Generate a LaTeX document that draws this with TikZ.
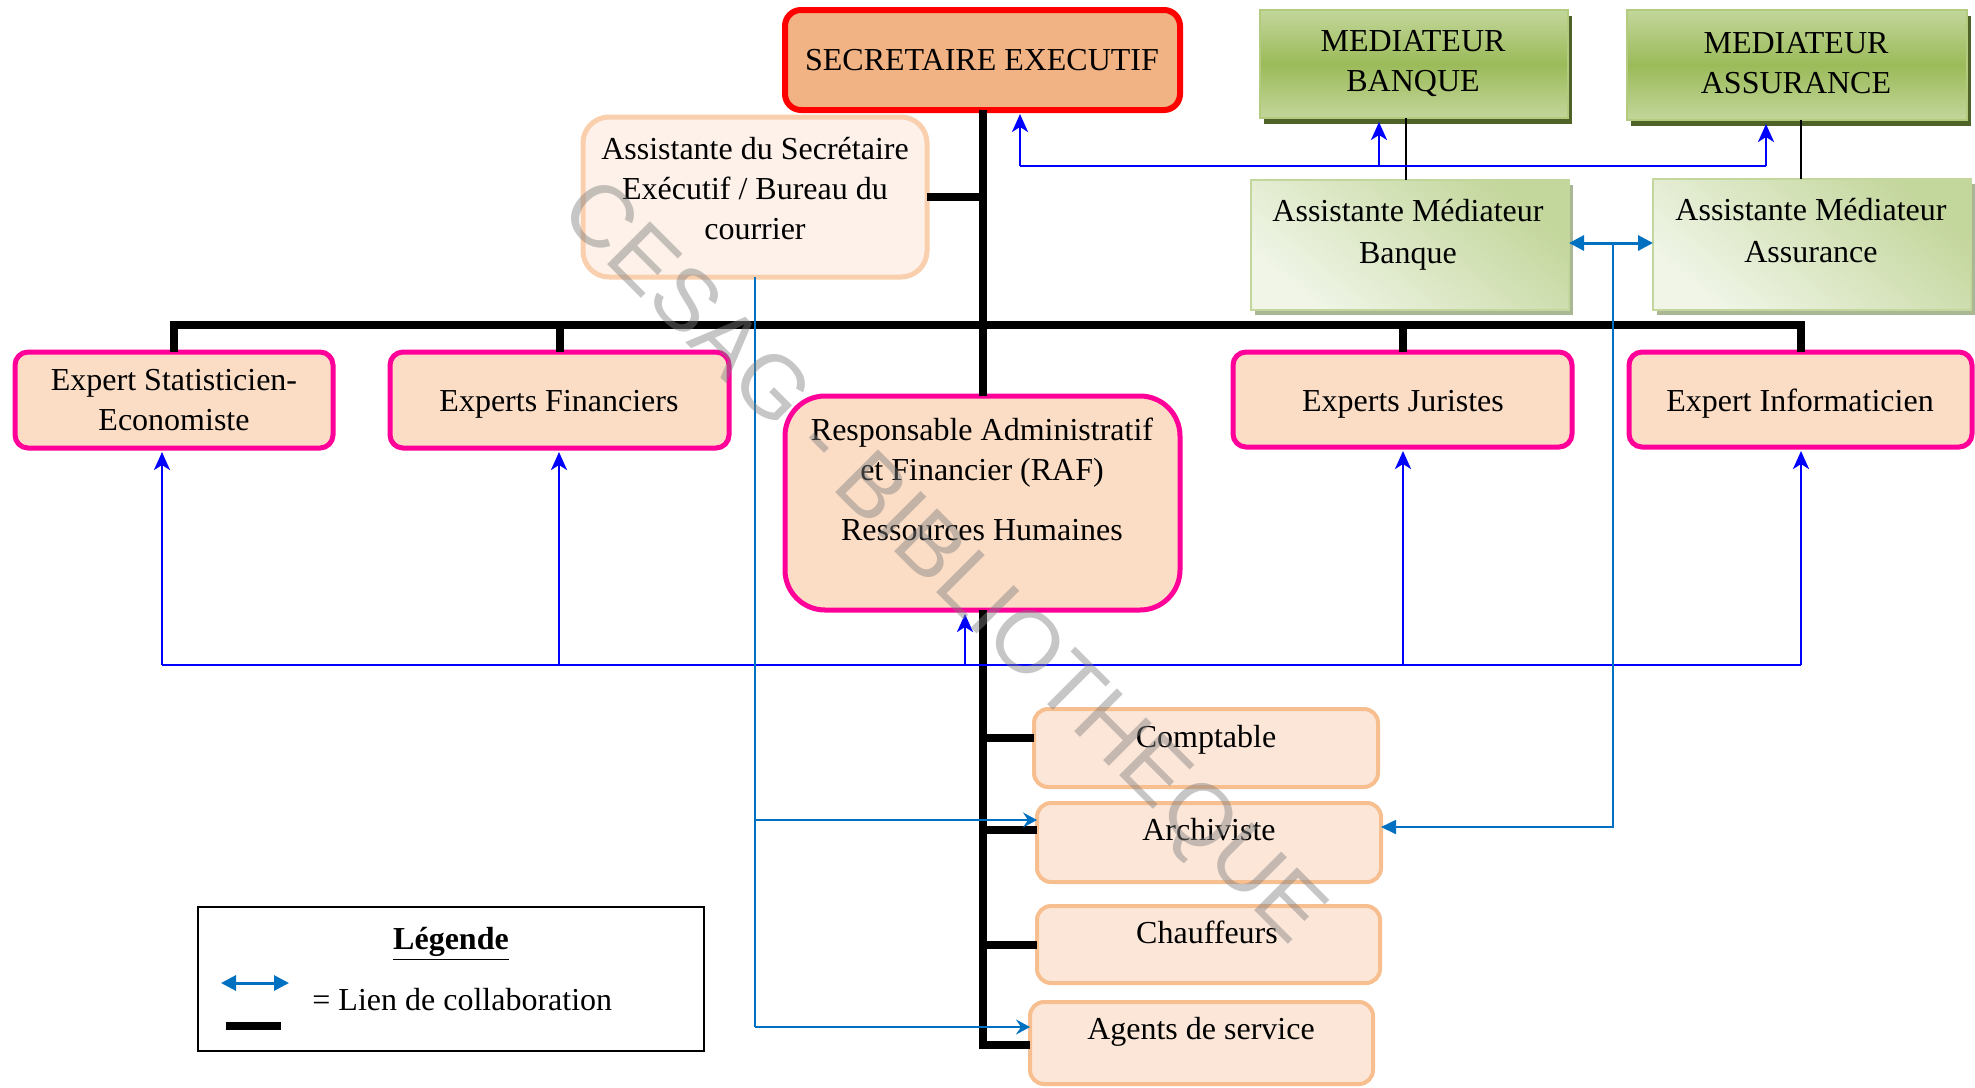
\documentclass[tikz,border=0pt]{standalone}
\usepackage{fontspec}
\setmainfont{Liberation Serif}
\newfontfamily\wmfont{Liberation Sans}
\usetikzlibrary{arrows.meta,fit,shadows}
\definecolor{secfill}{HTML}{F1B383}
\definecolor{secred}{HTML}{FF0000}
\definecolor{expfill}{HTML}{FBDDC6}
\definecolor{expmag}{HTML}{FF0099}
\definecolor{botfill}{HTML}{FCE6D8}
\definecolor{botline}{HTML}{F7BF8F}
\definecolor{asfill}{HTML}{FDF1E9}
\definecolor{asline}{HTML}{F9CFAE}
\definecolor{gLight}{HTML}{C3D69B}
\definecolor{gMid}{HTML}{9BBB59}
\definecolor{gEdge}{HTML}{B3CB7F}
\definecolor{gShadow}{HTML}{4F6228}
\definecolor{gPale}{HTML}{F0F5E7}
\definecolor{gShadowB}{HTML}{A9B795}
\definecolor{collab}{HTML}{0070C0}
\definecolor{pureblue}{HTML}{0000FF}
\begin{document}
\begin{tikzpicture}[x=0.5pt,y=-0.5pt,
  every node/.style={font=\fontsize{16}{20}\selectfont},
  boxbase/.style={inner sep=0pt, outer sep=0pt},
  secbox/.style={boxbase, draw=secred, fill=secfill, line width=3pt, rounded corners=8pt},
  expbox/.style={boxbase, draw=expmag, fill=expfill, line width=2.5pt, rounded corners=6.5pt},
  rafbox/.style={expbox, rounded corners=20pt},
  botbox/.style={boxbase, draw=botline, fill=botfill, line width=2pt, rounded corners=7pt},
  asbox/.style={boxbase, draw=asline, fill=asfill, line width=2.5pt, rounded corners=13pt},
  medbox/.style={boxbase, draw=gEdge, line width=1.2pt, top color=gLight, bottom color=gLight, middle color=gMid,
    drop shadow={shadow xshift=2pt, shadow yshift=-3pt, fill=gShadow, opacity=1}},
  amedbox/.style={boxbase, draw=gLight, line width=1pt, top color=gLight, bottom color=gPale, shading angle=-40,
    drop shadow={shadow xshift=2pt, shadow yshift=-2.5pt, fill=gShadowB, opacity=1}},
  txt/.style={align=center, inner sep=0pt},
  trunk/.style={line width=4pt, black},
  thinlink/.style={line width=0.9pt, black},
  bluel/.style={pureblue, line width=1.4pt},
  bluearr/.style={pureblue, line width=1.4pt, -{Stealth[length=9pt,width=8pt,inset=2.5pt]}, shorten >=2pt},
  collabl/.style={collab, line width=0.9pt},
  collabarr/.style={collab, line width=0.9pt, -{Stealth[length=7pt,width=7.5pt,inset=2.5pt]}},
  collabtri/.style={collab, line width=0.9pt, -{Triangle[length=7.5pt,width=7pt]}},
  collabdbl/.style={collab, line width=1.5pt, {Triangle[length=7.5pt,width=7.5pt]}-{Triangle[length=7.5pt,width=7.5pt]}},
]
\useasboundingbox (0,0) rectangle (1975,1087);

% ---------- boxes ----------
\node[secbox, fit={(785,10)(1180,110)}] (sec) {};
\node[txt] (secT) at (982,60) {SECRETAIRE EXECUTIF};
\node[medbox, fit={(1260,10)(1568,118)}] (mb) {};
\node[txt] (mbT) at (1413,64) {MEDIATEUR\\BANQUE};
\node[medbox, fit={(1627,10)(1967,120)}] (ma) {};
\node[txt] (maT) at (1796,63) {MEDIATEUR\\ASSURANCE};
\node[amedbox, fit={(1251,180)(1569,310)}] (amb) {};
\node[txt, font=\fontsize{16}{21}\selectfont] (ambT) at (1408,235) {Assistante Médiateur\\Banque};
\node[amedbox, fit={(1653,179)(1971,310)}] (ama) {};
\node[txt, font=\fontsize{16}{21}\selectfont] (amaT) at (1811,231) {Assistante Médiateur\\Assurance};
\node[asbox, fit={(583,117)(927,277)}] (asec) {};
\node[txt] (asecT) at (755,189) {Assistante du Secrétaire\\Exécutif / Bureau du\\courrier};

\node[expbox, fit={(15,352)(333,448)}] (stat) {};
\node[txt] (statT) at (174,400) {Expert Statisticien-\\Economiste};
\node[expbox, fit={(390,352)(729,448)}] (fin) {};
\node[txt] (finT) at (559,404) {Experts Financiers};
\node[expbox, fit={(1233,352)(1572,447)}] (jur) {};
\node[txt] (jurT) at (1403,404) {Experts Juristes};
\node[expbox, fit={(1629,352)(1972,447)}] (inf) {};
\node[txt] (infT) at (1800,404) {Expert Informaticien};
\node[rafbox, fit={(785,396)(1180,610)}] (raf) {};
\node[txt] (rafT) at (982,479) {Responsable Administratif\\et Financier (RAF)\\[10pt]Ressources Humaines};

\node[botbox, fit={(1034,709)(1378,787)}] (comp) {};
\node[txt] (compT) at (1206,740) {Comptable};
\node[botbox, fit={(1037,803)(1381,882)}] (archi) {};
\node[txt] (archiT) at (1209,830) {Archiviste};
\node[botbox, fit={(1037,906)(1380,983)}] (chauf) {};
\node[txt] (chaufT) at (1207,932) {Chauffeurs};
\node[botbox, fit={(1030,1002)(1373,1084)}] (agents) {};
\node[txt] (agentsT) at (1201,1032) {Agents de service};

% ---------- hierarchy (black) ----------
\coordinate (barY) at (0,325);
\coordinate (yComp) at (0,738);
\coordinate (yArchi) at (0,830);
\coordinate (yChauf) at (0,945);
\coordinate (tEnd) at (982.5,1045);
\draw[trunk] (sec.south) -- (raf.north);
\draw[trunk] (asec.east) -- (asec.east -| sec.south);
\draw[trunk] (stat.north) -- (stat.north |- barY) -- (inf.north |- barY) -- (inf.north);
\draw[trunk] (fin.north) -- (fin.north |- barY);
\draw[trunk] (jur.north) -- (jur.north |- barY);
\draw[trunk] (raf.south) -- (tEnd) -- (tEnd -| agents.west);
\draw[trunk] (tEnd |- yComp) -- (comp.west |- yComp);
\draw[trunk] (tEnd |- yArchi) -- (archi.west |- yArchi);
\draw[trunk] (tEnd |- yChauf) -- (chauf.west |- yChauf);

\coordinate (k1) at (1406,0);
\coordinate (k2) at (1801,0);
\draw[thinlink] (mb.south -| k1) -- (amb.north -| k1);
\draw[thinlink] (ma.south -| k2) -- (ama.north -| k2);

% ---------- blue links ----------
\coordinate (m0) at (1020,166);
\coordinate (m1) at (1379,166);
\coordinate (m2) at (1766,166);
\draw[bluel] (m0) -- (m2);
\draw[bluearr] (m0) -- (m0 |- sec.south);
\draw[bluearr] (m1) -- (m1 |- mb.south);
\draw[bluearr] (m2) -- (m2 |- ma.south);

\coordinate (e1) at (162,665);
\coordinate (e2) at (559,665);
\coordinate (e3) at (965,665);
\coordinate (e4) at (1403,665);
\coordinate (e5) at (1801,665);
\draw[bluel] (e1) -- (e5);
\draw[bluearr] (e1) -- (e1 |- stat.south);
\draw[bluearr] (e2) -- (e2 |- fin.south);
\draw[bluearr] (e3) -- (e3 |- raf.south);
\draw[bluearr] (e4) -- (e4 |- jur.south);
\draw[bluearr] (e5) -- (e5 |- inf.south);

% ---------- collaboration links ----------
\coordinate (cA) at (755,1027);
\coordinate (cB) at (755,820);
\draw[collabl] (asec.south) -- (cA);
\draw[collabarr] (cA) -- (cA -| agents.west);
\draw[collabarr] (cB) -- (cB -| archi.west);
\coordinate (cR1) at (1613,243);
\coordinate (cR2) at (1613,827);
\draw[collabdbl] (cR1 -| amb.east) -- (cR1 -| ama.west);
\draw[collabtri] (cR1) -- (cR2) -- (cR2 -| archi.east);

% ---------- legend ----------
\node[boxbase, draw=black, line width=0.9pt, fit={(198,907)(704,1051)}] (leg) {};
\node[txt] (legT) at (451,944) {\underline{\textbf{Légende}}};
\coordinate (lg1) at (221,983);
\coordinate (lg2) at (289,983);
\draw[collabdbl] (lg1) -- (lg2);
\coordinate (lg3) at (226,1026);
\coordinate (lg4) at (281,1026);
\draw[trunk] (lg3) -- (lg4);
\node[txt, anchor=west] (legL) at (312,1000) {= Lien de collaboration};

% ---------- watermark ----------
\node[rotate=-45, text=gray, opacity=0.45, inner sep=0pt, font=\wmfont\fontsize{44}{44}\selectfont] (wm) at (940,565) {CESAG - BIBLIOTHEQUE};
\end{tikzpicture}
\end{document}
